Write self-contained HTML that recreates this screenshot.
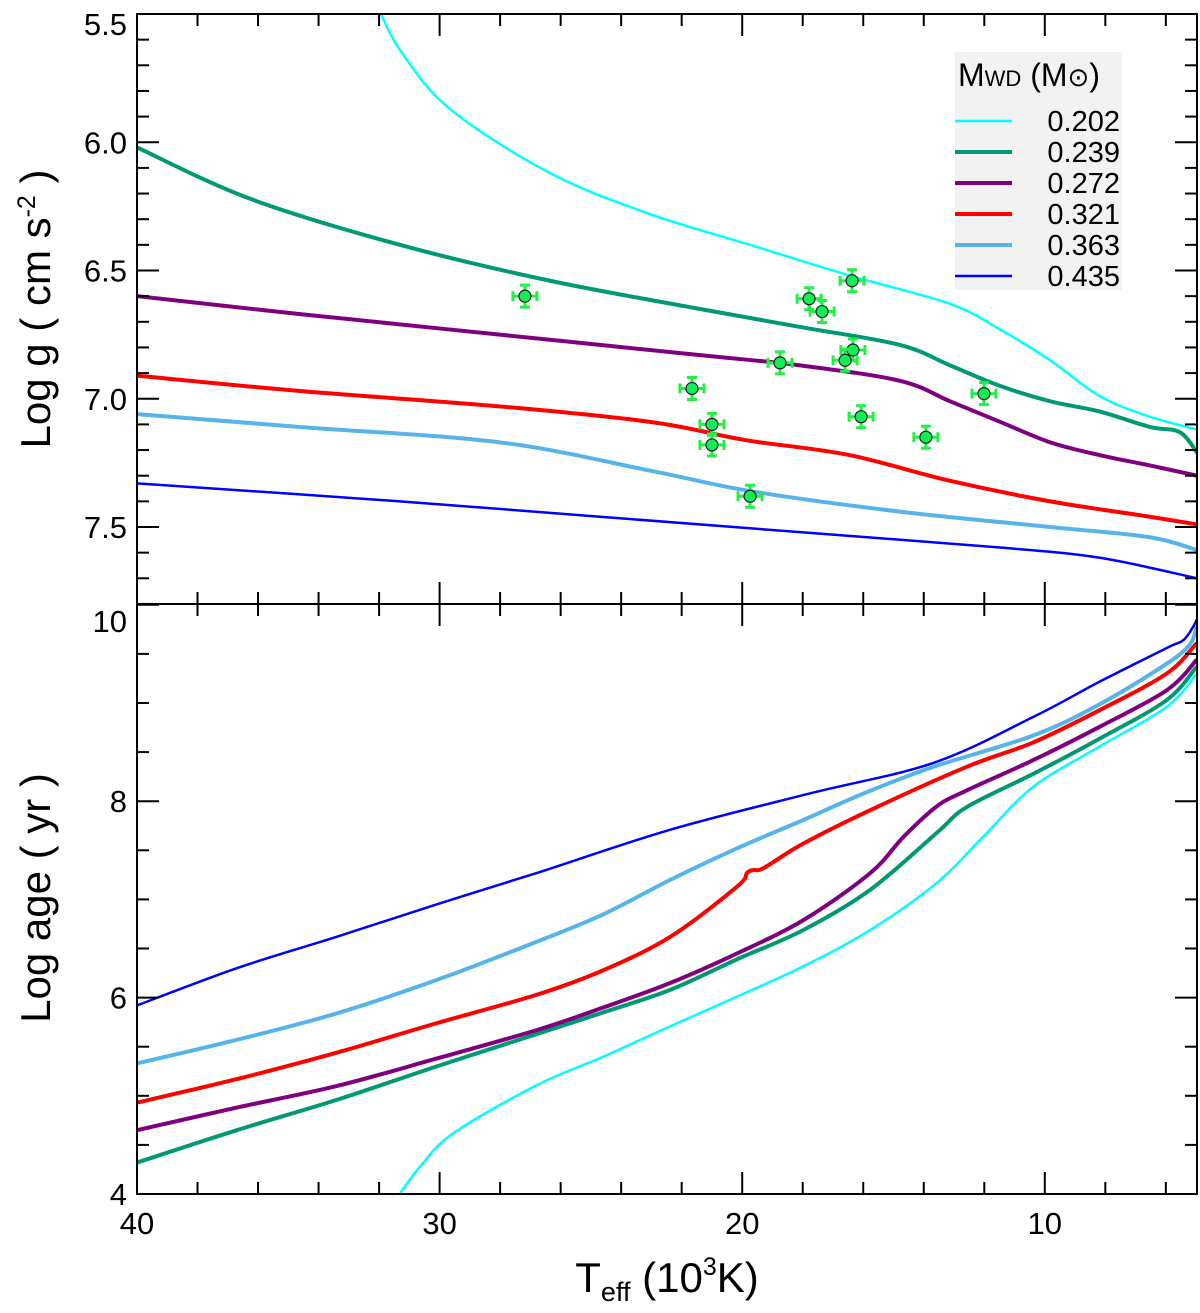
<!DOCTYPE html>
<html><head><meta charset="utf-8"><style>
body{margin:0;background:#fff}
svg{display:block;font-family:"Liberation Sans",Arial,sans-serif}
</style></head><body>
<svg id="chart" width="1200" height="1313" viewBox="0 0 1200 1313" xmlns="http://www.w3.org/2000/svg"></svg>
<script>
const masses = ["0.202","0.239","0.272","0.321","0.363","0.435"];
const colors = ["#00ffff","#009973","#7f007f","#ff0000","#56b4e9","#0000ff"];
const widths = [2.5,4,4,4,4,2.5];
// top panel: Teff (10^3 K) and log g per track
const gT = [
 [31.97,31.31,29.66,26.35,23.05,19.74,16.44,13.13,11.48,9.82,8.18,6.53,4.97],
 [40,36.27,31.31,26.35,21.39,18.09,14.79,13.13,11.48,9.82,8.18,6.53,5.54,4.97],
 [40,34.61,28.01,21.39,18.09,14.79,13.13,11.48,9.82,8.18,6.53,4.97],
 [40,34.61,28.01,23.05,20.40,19.41,16.44,13.13,9.82,6.53,4.97],
 [40,34.61,28.01,23.05,19.74,14.79,9.82,6.53,4.97],
 [40,31.31,24.70,18.09,11.48,8.18,4.97]];
const gV = [
 [5.49,5.64,5.87,6.12,6.28,6.40,6.52,6.63,6.73,6.85,6.99,7.07,7.12],
 [6.02,6.22,6.40,6.54,6.65,6.72,6.79,6.87,6.95,7.01,7.05,7.11,7.13,7.21],
 [6.60,6.67,6.75,6.83,6.87,6.93,7.01,7.09,7.17,7.22,7.26,7.30],
 [6.91,6.97,7.03,7.09,7.15,7.17,7.22,7.32,7.40,7.46,7.49],
 [7.06,7.11,7.17,7.28,7.36,7.44,7.50,7.54,7.59],
 [7.33,7.40,7.46,7.52,7.58,7.62,7.70]];
// bottom panel: log age
const aT = [
 [31.30,30.64,29.54,26.78,24.58,22.37,20.17,17.97,15.76,13.56,12.03,10.37,8.17,5.97,4.98],
 [40,36.70,33.39,30.09,26.78,24.58,22.37,20.17,17.97,15.76,13.56,12.58,10.37,8.17,5.97,4.98],
 [40,36.70,33.39,30.09,26.78,24.58,22.37,20.17,17.97,15.76,14.66,13.56,12.58,10.37,8.17,5.97,4.98],
 [40,36.70,33.39,30.09,26.78,24.58,22.37,20.17,19.84,19.62,19.29,17.97,15.76,12.58,10.37,8.17,5.97,4.98],
 [40,36.70,33.39,30.09,26.78,24.58,22.37,20.17,17.97,15.98,13.68,10.37,8.17,5.97,5.20,4.98],
 [40,36.70,33.39,30.09,26.78,22.37,17.75,13.68,10.37,8.17,5.97,5.42,5.09,4.98]];
const aV = [
 [4.01,4.28,4.62,5.11,5.40,5.71,6.01,6.32,6.69,7.17,7.64,8.15,8.56,8.96,9.30],
 [4.32,4.65,4.96,5.30,5.63,5.85,6.08,6.39,6.69,7.10,7.68,7.94,8.28,8.64,9.03,9.37],
 [4.65,4.88,5.10,5.38,5.67,5.90,6.15,6.45,6.79,7.27,7.64,7.95,8.11,8.42,8.76,9.13,9.44],
 [4.93,5.17,5.44,5.74,6.03,6.28,6.62,7.13,7.27,7.30,7.32,7.57,7.91,8.35,8.60,8.93,9.30,9.61],
 [5.33,5.57,5.84,6.18,6.57,6.85,7.20,7.52,7.81,8.08,8.35,8.67,8.99,9.40,9.60,9.78],
 [5.92,6.30,6.62,6.95,7.27,7.71,8.08,8.39,8.86,9.22,9.56,9.64,9.78,9.85]];
// observed objects
const obsT = [27.18,17.79,17.36,16.37,16.34,16.60,18.75,21.66,12.01,16.07,13.93,21.00,21.00,19.74];
const obsG = [6.60,6.61,6.66,6.54,6.81,6.85,6.86,6.96,6.98,7.07,7.15,7.10,7.18,7.38];
const xTicks = [40,30,20,10];
const gTicks = ["5.5","6.0","6.5","7.0","7.5"];
const aTicks = [4,6,8,10];

const NS="http://www.w3.org/2000/svg";
const svg=document.getElementById('chart');
const L=137,R=1197,T1=14,B1=604,B2=1194;
const X=t=>L+(40-t)*30.26;
const YG=g=>T1+(g-5.5)*256.5;
const YA=a=>B2-(a-4)*98.2;
function el(tag,attrs,parent){const e=document.createElementNS(NS,tag);for(const k in attrs)e.setAttribute(k,attrs[k]);(parent||svg).appendChild(e);return e;}
function smooth(pts){let d=`M${pts[0][0]},${pts[0][1]}`;for(let i=0;i<pts.length-1;i++){const p0=pts[i-1]||pts[i],p1=pts[i],p2=pts[i+1],p3=pts[i+2]||p2;
 const c1=[p1[0]+(p2[0]-p0[0])/6,p1[1]+(p2[1]-p0[1])/6],c2=[p2[0]-(p3[0]-p1[0])/6,p2[1]-(p3[1]-p1[1])/6];
 d+=` C${c1[0]},${c1[1]} ${c2[0]},${c2[1]} ${p2[0]},${p2[1]}`;}return d;}

const defs=el('defs',{});
const c1=el('clipPath',{id:'c1'},defs);el('rect',{x:L,y:T1,width:R-L,height:B1-T1},c1);
const c2=el('clipPath',{id:'c2'},defs);el('rect',{x:L,y:B1,width:R-L,height:B2-B1},c2);

// legend
const lg=el('g',{});


el('rect',{x:955,y:52,width:167,height:238,fill:'#f2f2f2'},lg);
const lt=el('text',{x:958,y:86,'font-size':32},lg);
lt.innerHTML='M<tspan font-size="22">WD</tspan> (M<tspan font-size="26">⊙</tspan>)';


masses.forEach((m,i)=>{const y=121+i*31;
 const ln=el('line',{x1:955,x2:1012,y1:y,y2:y,stroke:colors[i],'stroke-width':widths[i]},lg);
 
 
 const t=el('text',{x:1120,y:y+10,'font-size':29,'text-anchor':'end'},lg);t.textContent=m;
 
 });

// curves
masses.forEach((m,i)=>{
 const p=el('path',{d:smooth(gT[i].map((t,j)=>[X(t),YG(gV[i][j])])),fill:'none',stroke:colors[i],'stroke-width':widths[i],'clip-path':'url(#c1)'});
 
 
 const q=el('path',{d:smooth(aT[i].map((t,j)=>[X(t),YA(aV[i][j])])),fill:'none',stroke:colors[i],'stroke-width':widths[i],'clip-path':'url(#c2)'});
 
 
});

// observations
obsT.forEach((t,i)=>{const cx=X(t),cy=YG(obsG[i]);const g=el('g',{stroke:'#22ee44','stroke-width':3});
 
 
 const ex=12,ey=11;
 el('line',{x1:cx-ex,x2:cx+ex,y1:cy,y2:cy},g);el('line',{x1:cx,x2:cx,y1:cy-ey,y2:cy+ey},g);
 el('line',{x1:cx-ex,x2:cx-ex,y1:cy-5,y2:cy+5},g);el('line',{x1:cx+ex,x2:cx+ex,y1:cy-5,y2:cy+5},g);
 el('line',{x1:cx-5,x2:cx+5,y1:cy-ey,y2:cy-ey},g);el('line',{x1:cx-5,x2:cx+5,y1:cy+ey,y2:cy+ey},g);
 el('circle',{cx,cy,r:6,fill:'#11ee55',stroke:'#222','stroke-width':1.2},g);});

// frames
const fr=el('g',{fill:'none',stroke:'#000','stroke-width':2});


el('rect',{x:L,y:T1,width:R-L,height:B1-T1},fr);
el('rect',{x:L,y:B1,width:R-L,height:B2-B1},fr);
for(let t=40;t>=6;t-=2){const x=X(t),maj=t%10==0,len=maj?22:12;
 [[T1,1],[B1,-1],[B1,1],[B2,-1]].forEach(([y,s])=>el('line',{x1:x,x2:x,y1:y,y2:y+s*len},fr));}
for(let k=55;k<=78;k++){const g=k/10,y=YG(g),maj=k%5==0,len=maj?22:12;
 el('line',{x1:L,x2:L+len,y1:y,y2:y},fr);el('line',{x1:R,x2:R-len,y1:y,y2:y},fr);}
for(let a=4;a<=10;a+=0.5){const y=YA(a),maj=a%2==0,len=maj?22:12;
 el('line',{x1:L,x2:L+len,y1:y,y2:y},fr);el('line',{x1:R,x2:R-len,y1:y,y2:y},fr);}

// tick labels
gTicks.forEach(s=>{const yy=Math.max(YG(+s),24);const t=el('text',{x:127,y:yy+11,'font-size':31,'text-anchor':'end'});t.textContent=s;
 
 });
aTicks.forEach(a=>{const yy=Math.max(YA(a),621);const t=el('text',{x:127,y:yy+11,'font-size':31,'text-anchor':'end'});t.textContent=a;
 
 });
xTicks.forEach(v=>{const t=el('text',{x:X(v),y:1234,'font-size':31,'text-anchor':'middle'});t.textContent=v;
 
 });

// axis titles
const yt1=el('text',{x:0,y:0,'font-size':42,'text-anchor':'middle',transform:`translate(50,309) rotate(-90)`});
yt1.innerHTML='Log g ( cm s<tspan dy="-15" font-size="25">-2</tspan><tspan dy="15"> )</tspan>';


const yt2=el('text',{x:0,y:0,'font-size':42,'text-anchor':'middle',transform:`translate(50,898) rotate(-90)`});
yt2.textContent='Log age ( yr )';


const xt=el('text',{x:667,y:1292,'font-size':42,'text-anchor':'middle'});
xt.innerHTML='T<tspan font-size="27" dy="9">eff</tspan><tspan dy="-9"> (10</tspan><tspan dy="-17" font-size="25">3</tspan><tspan dy="17">K)</tspan>';


</script>
</body></html>
